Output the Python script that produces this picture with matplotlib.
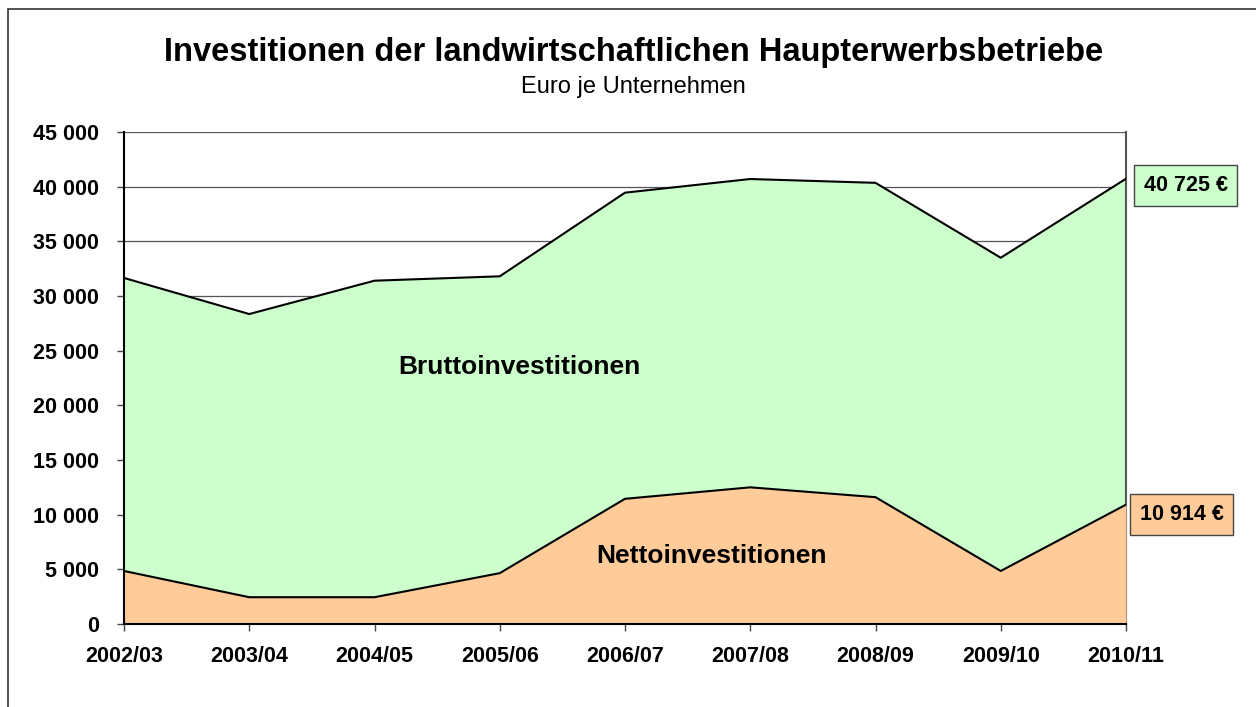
import numpy as np
import matplotlib.pyplot as plt
from matplotlib.patches import Rectangle
from matplotlib.ticker import FuncFormatter

plt.rcParams["font.family"] = ["Liberation Sans", "DejaVu Sans"]

years = ["2002/03", "2003/04", "2004/05", "2005/06", "2006/07",
         "2007/08", "2008/09", "2009/10", "2010/11"]
brutto = [31650, 28350, 31400, 31800, 39450, 40700, 40350, 33500, 40725]
netto = [4850, 2450, 2450, 4650, 11450, 12500, 11600, 4850, 10914]

W, H = 1256, 707
fig = plt.figure(figsize=(W / 100, H / 100), dpi=100)
ax = fig.add_axes([124 / W, 1 - 624 / H, (1126 - 124) / W, (624 - 132) / H])

x = np.arange(len(years))
ax.fill_between(x, 0, brutto, color="#ccffcc", lw=0, zorder=2)
ax.plot(x, brutto, color="black", lw=1.5, zorder=4)
ax.fill_between(x, 0, netto, color="#ffcc99", lw=0, zorder=3)
ax.plot(x, netto, color="black", lw=1.5, zorder=4)

ax.set_xlim(0, len(years) - 1)
ax.set_ylim(0, 45000)
ax.set_yticks(np.arange(0, 45001, 5000))
ax.yaxis.set_major_formatter(
    FuncFormatter(lambda v, p: f"{int(v):,}".replace(",", " ")))
ax.set_xticks(x)
ax.set_xticklabels(years)
ax.grid(axis="y", color="#555555", lw=0.9, zorder=1)
ax.set_axisbelow(True)

for s in ["left", "bottom"]:
    ax.spines[s].set_color("black")
    ax.spines[s].set_linewidth(1.5)
    ax.spines[s].set_zorder(5)
ax.spines["right"].set_color("#555555")
ax.spines["right"].set_linewidth(1.5)
ax.spines["top"].set_visible(False)

ax.tick_params(axis="both", direction="out", length=5, width=1,
               color="#444444", labelsize=15.5)
ax.tick_params(axis="y", pad=13)
ax.tick_params(axis="x", pad=11)
for lab in ax.get_xticklabels() + ax.get_yticklabels():
    lab.set_fontweight("bold")

ax.text(3.16, 23500, "Bruttoinvestitionen", ha="center", va="center",
        fontsize=19, fontweight="bold", zorder=6)
ax.text(4.69, 6200, "Nettoinvestitionen", ha="center", va="center",
        fontsize=19, fontweight="bold", zorder=6)

ax.annotate(f"{brutto[-1]:,} €".replace(",", " "), xy=(x[-1], brutto[-1]),
            xytext=(43, -5), textcoords="offset points", ha="center",
            va="center", fontsize=15.5, fontweight="bold", annotation_clip=False,
            bbox=dict(boxstyle="square,pad=0.45", fc="#ccffcc", ec="#444444", lw=1))
ax.annotate(f"{netto[-1]:,} €".replace(",", " "), xy=(x[-1], netto[-1]),
            xytext=(40, -7), textcoords="offset points", ha="center",
            va="center", fontsize=15.5, fontweight="bold", annotation_clip=False,
            bbox=dict(boxstyle="square,pad=0.45", fc="#ffcc99", ec="#444444", lw=1))

fig.text(634 / W, 1 - 52 / H,
         "Investitionen der landwirtschaftlichen Haupterwerbsbetriebe",
         ha="center", va="center", fontsize=23.5, fontweight="bold")
fig.text(633 / W, 1 - 87 / H, "Euro je Unternehmen",
         ha="center", va="center", fontsize=17)

# outer frame of the chart
fig.patches.append(Rectangle((8 / W, -0.1), 1.2, 1.1 - 9 / H,
                             transform=fig.transFigure, fill=False,
                             ec="#333333", lw=1.2))

fig.savefig("out.png", dpi=100)
